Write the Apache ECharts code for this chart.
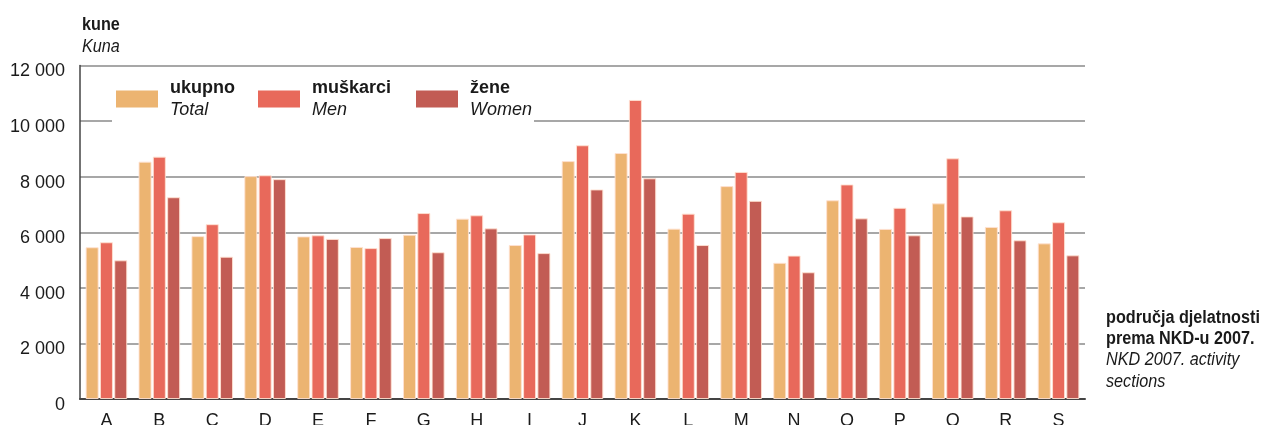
<!DOCTYPE html>
<html>
<head>
<meta charset="utf-8">
<script src="https://cdn.jsdelivr.net/npm/echarts@6/dist/echarts.min.js"></script>
<style>
html,body{margin:0;padding:0;background:#fff;}
#c{width:1271px;height:425px;}
</style>
</head>
<body>
<div id="c"></div>
<script>
var categories = ['A','B','C','D','E','F','G','H','I','J','K','L','M','N','O','P','Q','R','S'];
var totalValues = [5460,8540,5860,8020,5850,5470,5910,6490,5540,8560,8850,6130,7660,4900,7150,6120,7040,6190,5600];
var menValues   = [5640,8720,6290,8050,5890,5430,6690,6610,5920,9130,10760,6670,8170,5160,7720,6880,8660,6790,6360];
var womenValues = [4990,7260,5120,7910,5760,5790,5280,6140,5250,7540,7940,5540,7130,4560,6500,5890,6570,5710,5170];
var seriesNames = ['ukupno','muškarci','žene'];
var seriesNamesEn = ['Total','Men','Women'];
var yTicks = [0,2000,4000,6000,8000,10000,12000];

var FONT = '"Liberation Sans", Arial, sans-serif';
var colors = ['#ECB471','#E8695B','#C25C54'];
var chart = echarts.init(document.getElementById('c'), null, {renderer:'canvas'});

function fmt(v){ return String(v).replace(/\B(?=(\d{3})+(?!\d))/g,' '); }

var legendLefts = [111, 253, 411];
var legends = seriesNames.map(function(n,i){
  return {
    data:[n], left: legendLefts[i], top: 74, orient:'horizontal',
    itemWidth:42, itemHeight:17, icon:'rect', selectedMode:false,
    itemStyle:{borderWidth:0},
    formatter: function(name){ return '{a|'+name+'}\n{b|'+seriesNamesEn[i]+'}'; },
    textStyle:{
      padding:[0,0,0,7],
      rich:{
        a:{fontFamily:FONT,fontSize:18,fontWeight:'bold',color:'#1a1a1a',lineHeight:22},
        b:{fontFamily:FONT,fontSize:18,fontStyle:'italic',color:'#1a1a1a',lineHeight:22}
      }
    }
  };
});

function txt(x, y, s, style){
  return {type:'text', x:x, y:y, scaleX:0.9, z:5,
    style:{text:s, font:style+' 18px '+FONT, fill:'#1a1a1a', textVerticalAlign:'top'}};
}

var option = {
  backgroundColor:'#fff',
  animation:false,
  grid:{left:80,right:186,top:65.5,bottom:26,containLabel:false,outerBoundsMode:'none'},
  legend: legends,
  graphic:[
    {type:'rect', z:3, shape:{x:112,y:76,width:422,height:52}, style:{fill:'#fff'}},
    txt(82, 16, 'kune', 'bold'),
    txt(82, 38, 'Kuna', 'italic'),
    txt(1106, 309, 'područja djelatnosti', 'bold'),
    txt(1106, 330, 'prema NKD-u 2007.', 'bold'),
    txt(1106, 351, 'NKD 2007. activity', 'italic'),
    txt(1106, 373, 'sections', 'italic')
  ],
  xAxis:{
    type:'category', data:categories,
    axisLine:{lineStyle:{color:'#444',width:2}},
    axisTick:{show:false},
    axisLabel:{fontFamily:FONT,fontSize:18,color:'#1a1a1a',margin:13}
  },
  yAxis:{
    type:'value', min:0, max:12000, interval:2000,
    axisLine:{show:true,lineStyle:{color:'#444',width:1.5}},
    axisTick:{show:false},
    splitLine:{lineStyle:{color:'#8a8a8a',width:1.5}},
    axisLabel:{fontFamily:FONT,fontSize:18,color:'#1a1a1a',margin:15,verticalAlign:'top',lineHeight:12,
      formatter:function(v){ return yTicks.indexOf(v)>=0 ? fmt(v) : ''; }}
  },
  series:[totalValues,menValues,womenValues].map(function(d,i){
    return {
      name:seriesNames[i], type:'bar', data:d, barWidth:13, barGap:'10%',
      itemStyle:{color:colors[i], borderColor:'rgba(255,225,210,0.9)', borderWidth:1},
      z:2
    };
  })
};
chart.setOption(option);
</script>
</body>
</html>
